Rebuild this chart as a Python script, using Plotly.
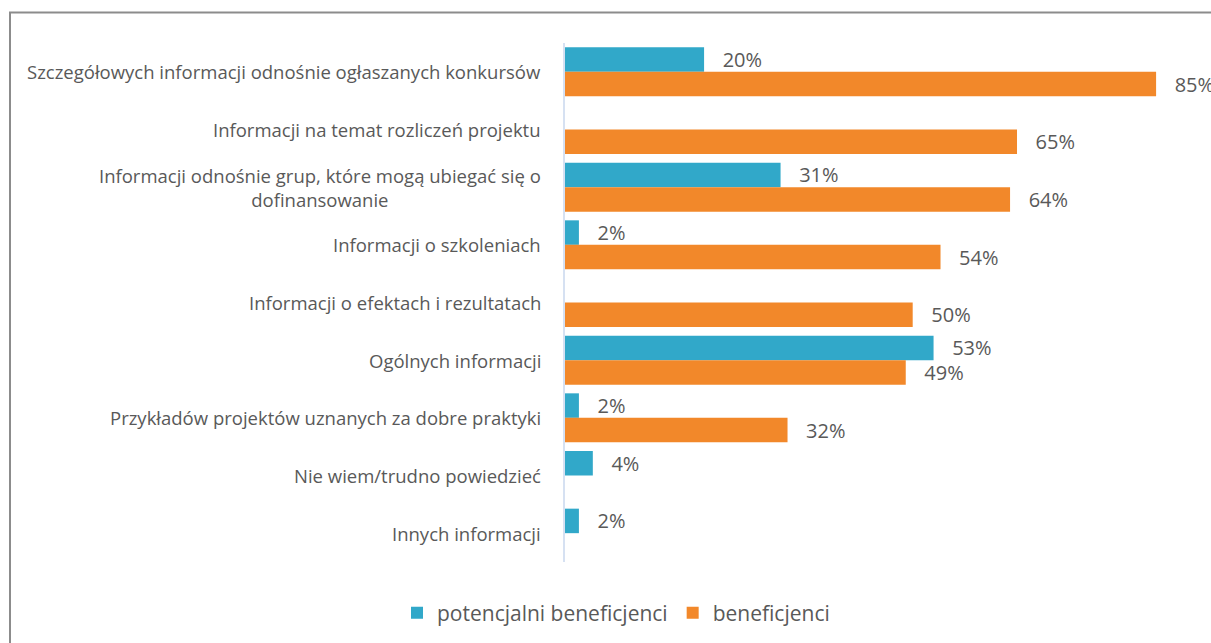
import plotly.graph_objects as go

categories = [
    "Szczegółowych informacji odnośnie ogłaszanych konkursów",
    "Informacji na temat rozliczeń projektu",
    "Informacji odnośnie grup, które mogą ubiegać się o<br>dofinansowanie",
    "Informacji o szkoleniach",
    "Informacji o efektach i rezultatach",
    "Ogólnych informacji",
    "Przykładów projektów uznanych za dobre praktyki",
    "Nie wiem/trudno powiedzieć",
    "Innych informacji",
]
potencjalni = [20, None, 31, 2, None, 53, 2, 4, 2]
beneficjenci = [85, 65, 64, 54, 50, 49, 32, None, None]
series_names = ["potencjalni beneficjenci", "beneficjenci"]
colors = ["#31A8C9", "#F2882A"]

FONT = "Open Sans"
GRAY = "#595959"
NB = "\u00a0"

def labels(vals):
    return [("" if v is None else NB * 3 + f"{v}%") for v in vals]

fig = go.Figure()
for name, vals, col in zip(series_names, [potencjalni, beneficjenci], colors):
    fig.add_trace(go.Bar(
        y=categories, x=vals, name=name, orientation="h",
        marker=dict(color=col, line=dict(width=0)),
        text=labels(vals), textposition="outside", constraintext="none",
        cliponaxis=False,
        textfont=dict(family=FONT, size=20, color=GRAY),
        hoverinfo="skip",
    ))

W, H = 1211, 643
ML, MT = 565, 43
ph = 519
MB = H - MT - ph
MR = 0
pw = W - ML - MR
px_per_pct = 6.954

annotations = []
for c in categories:
    annotations.append(dict(
        x=(543 - ML) / pw, xref="paper", y=c, yref="y",
        text=c, showarrow=False, xanchor="right", align="center",
        font=dict(family=FONT, size=18.5, color=GRAY),
    ))

fig.update_layout(
    width=W, height=H,
    margin=dict(l=ML, r=MR, t=MT, b=MB, pad=0),
    paper_bgcolor="white", plot_bgcolor="white",
    barmode="group", bargap=0.15, bargroupgap=0,
    xaxis=dict(range=[0, pw / px_per_pct], showgrid=False, zeroline=False,
               showticklabels=False, showline=False, fixedrange=True),
    yaxis=dict(autorange="reversed", showgrid=False, zeroline=False,
               showticklabels=False, showline=True, linecolor="#D6E1F2",
               linewidth=2, ticks=""),
    legend=dict(orientation="h", x=(616 - ML) / pw, xanchor="center",
                y=-(613 - (MT + ph)) / ph, yanchor="middle",
                font=dict(family=FONT, size=21, color=GRAY),
                traceorder="normal", itemwidth=30),
    annotations=annotations,
    shapes=[dict(type="rect", xref="paper", yref="paper",
                 x0=(10 - ML) / pw, x1=3.0,
                 y0=-3.0, y1=1 + (MT - 12.5) / ph,
                 line=dict(color="#8C8C8C", width=2), layer="below")],
    showlegend=True,
)

fig.write_html(
    "out.html",
    config={"displayModeBar": False},
    post_script="document.body.style.margin='0';document.body.style.overflow='hidden';",
)
